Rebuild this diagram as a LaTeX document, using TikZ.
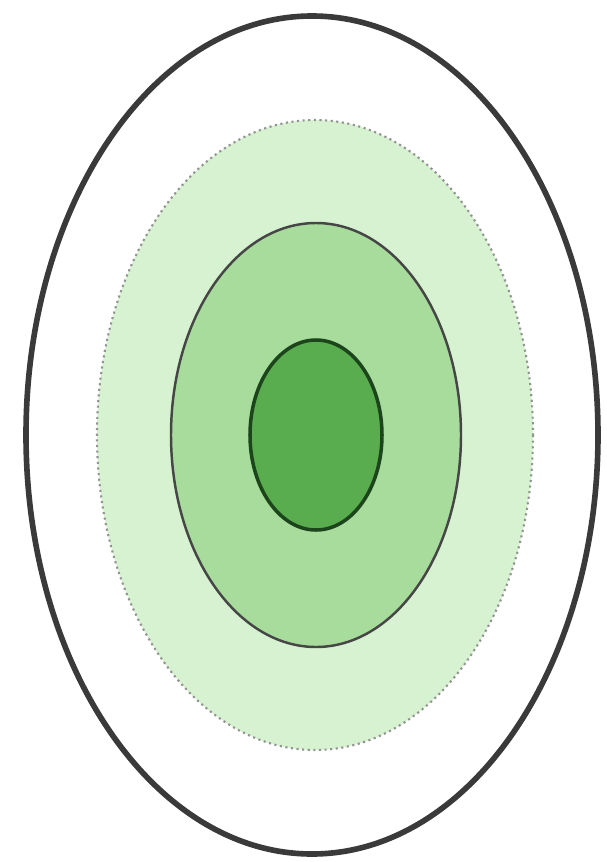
\documentclass[tikz,border=0pt]{standalone}
\usepackage{xcolor}
\definecolor{ringline}{HTML}{3A3A3A}
\definecolor{paleleaf}{HTML}{D6F2D0}
\definecolor{midleaf}{HTML}{A8DC9C}
\definecolor{coreleaf}{HTML}{5AAD4E}
\definecolor{coreline}{HTML}{1C451C}
\begin{document}
\begin{tikzpicture}[x=0.1mm, y=-0.1mm,
    outerring/.style={draw=ringline, line width=1.6pt},
    palering/.style={draw=gray!85, line width=0.6pt, densely dotted},
    midring/.style={fill=midleaf, draw=gray!55!black, line width=0.7pt},
    corering/.style={fill=coreleaf, draw=coreline, line width=1pt}]
    \useasboundingbox (0,0) rectangle (607,862);
    \fill[white] (0,0) rectangle (607,862);

    % Outer ring - white with dark border
    \draw[outerring] (312,435) ellipse (286 and 419);

    % Second ring - pale green
    \fill[paleleaf] (315,435) ellipse (218 and 315);
    \draw[palering] (315,435) ellipse (218 and 315);

    % Third ring - middle green
    \draw[midring] (316,435) ellipse (145 and 212);

    % Core - dark green
    \draw[corering] (316,435) ellipse (66 and 95);
\end{tikzpicture}
\end{document}
